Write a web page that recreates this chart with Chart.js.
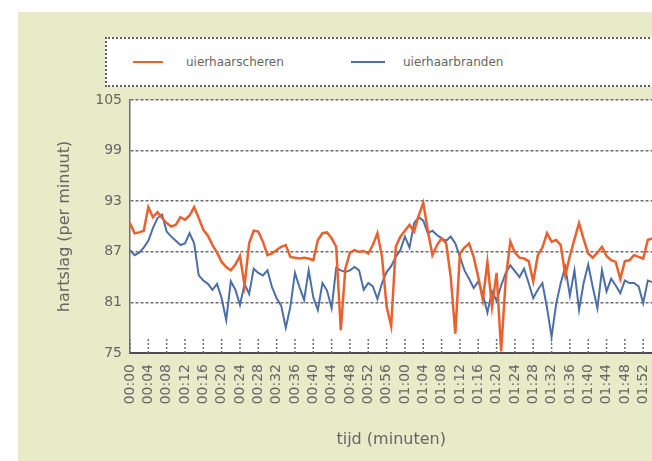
<!DOCTYPE html>
<html>
<head>
<meta charset="utf-8">
<script src="https://cdn.jsdelivr.net/npm/chart.js@4.4.1/dist/chart.umd.min.js"></script>
<style>
    html, body { margin: 0; padding: 0; background: #fff; overflow: hidden; }
    #page { position: relative; width: 652px; height: 461px; overflow: hidden; }
    #bg { position: absolute; left: 18px; top: 12px; right: 0; bottom: 0; background: #e7ebc8; }
    #chart { position: absolute; left: 0; top: 0; }
    .legend { position: absolute; left: 105px; top: 37px; width: 600px; height: 46px; background: #fff;
              border: 2px dotted #5e5e5e; font: 12px "DejaVu Sans", sans-serif; color: #666; }
    .legend .line { position: absolute; top: 22px; height: 2px; }
    .legend .label { position: absolute; top: 15px; line-height: 16px; }
</style>
</head>
<body>
<div id="page">
    <div id="bg"></div>
    <canvas id="chart" width="671" height="461"></canvas>
    <div class="legend">
        <div class="line" style="left: 26px; width: 30px; background: #e9612f;"></div>
        <div class="label" style="left: 79px;">uierhaarscheren</div>
        <div class="line" style="left: 244px; width: 34px; background: #4b6fa6;"></div>
        <div class="label" style="left: 296px;">uierhaarbranden</div>
    </div>
</div>
<script>
// heart rate per minute
const scheren = [
    90.4, 89.2, 89.3, 89.5, 92.3, 91.1, 91.7, 91.0, 90.4, 90.0,
    90.2, 91.1, 90.8, 91.3, 92.3, 91.0, 89.6, 88.9, 87.8, 86.9,
    85.8, 85.2, 84.8, 85.5, 86.5, 83.0, 88.0, 89.5, 89.4, 88.2,
    86.6, 86.8, 87.2, 87.6, 87.8, 86.4, 86.3, 86.2, 86.3, 86.2,
    86.0, 88.4, 89.2, 89.3, 88.6, 87.6, 77.7, 85.0, 86.9, 87.2,
    87.0, 87.1, 86.8, 87.8, 89.2, 86.4, 80.5, 78.2, 87.6, 88.8,
    89.5, 90.2, 89.4, 91.3, 92.8, 89.5, 86.6, 87.8, 88.6, 88.0,
    84.0, 77.3, 86.8, 87.5, 88.0, 86.4, 84.0, 81.3, 85.8, 80.5,
    84.5, 75.2, 83.8, 88.2, 86.9, 86.3, 86.2, 85.9, 83.5, 86.6,
    87.5, 89.2, 88.2, 88.4, 87.8, 84.2, 86.5, 88.5, 90.4, 88.5,
    86.8, 86.3, 86.9, 87.6, 86.5, 86.0, 85.8, 83.8, 85.9, 86.0,
    86.6, 86.4, 86.2, 88.4, 88.6
];
const branden = [
    87.2, 86.6, 86.9, 87.5, 88.3, 89.8, 91.0, 91.4, 89.4, 88.8,
    88.3, 87.8, 88.0, 89.2, 88.0, 84.2, 83.6, 83.2, 82.5, 83.2,
    81.5, 78.9, 83.5, 82.5, 80.7, 83.2, 82.0, 85.0, 84.5, 84.2,
    84.8, 82.8, 81.5, 80.6, 78.0, 80.5, 84.5, 82.8, 81.3, 84.8,
    81.6, 80.1, 83.3, 82.4, 80.3, 85.1, 84.8, 84.6, 84.8, 85.2,
    84.8, 82.5, 83.3, 82.9, 81.4, 83.3, 84.6, 85.3, 86.4, 87.2,
    88.8, 87.5, 90.4, 91.1, 90.7, 89.2, 89.5, 89.0, 88.6, 88.3,
    88.8, 88.0, 86.4, 84.8, 83.8, 82.7, 83.5, 82.0, 79.8, 82.3,
    81.2, 83.0, 84.5, 85.4, 84.7, 84.0, 85.0, 83.3, 81.5, 82.5,
    83.3, 80.4, 76.9, 80.8, 83.3, 85.2, 81.8, 84.8, 80.1, 83.3,
    85.5, 82.8, 80.3, 84.8, 82.3, 83.8, 83.0, 82.1, 83.6, 83.3,
    83.3, 82.9, 80.9, 83.6, 83.4
];
// one label every 4 minutes
const tijdLabels = [
    '00:00', '00:04', '00:08', '00:12', '00:16', '00:20', '00:24', '00:28',
    '00:32', '00:36', '00:40', '00:44', '00:48', '00:52', '00:56',
    '01:00', '01:04', '01:08', '01:12', '01:16', '01:20', '01:24', '01:28',
    '01:32', '01:36', '01:40', '01:44', '01:48', '01:52'
];
const minuten = scheren.map((v, i) => i);

const tekstKleur = '#666';
const lijnKleur = '#6d6d6d';

// white plot area + small tick marks pointing up into the plot
const plotExtras = {
    id: 'plotExtras',
    beforeDraw(chart) {
        const { ctx, chartArea: a } = chart;
        ctx.save();
        ctx.fillStyle = '#fff';
        ctx.fillRect(a.left, a.top, a.right - a.left, a.bottom - a.top);
        ctx.restore();
    },
    beforeDatasetsDraw(chart) {
        const x = chart.scales.x;
        const ctx = chart.ctx;
        ctx.save();
        ctx.strokeStyle = lijnKleur;
        ctx.lineWidth = 1.5;
        ctx.setLineDash([2, 2]);
        x.ticks.forEach((t, i) => {
            if (t.label == null) return;
            const px = x.getPixelForTick(i);
            ctx.beginPath();
            ctx.moveTo(px, x.top);
            ctx.lineTo(px, x.top - 14);
            ctx.stroke();
        });
        ctx.restore();
    }
};

new Chart(document.getElementById('chart').getContext('2d'), {
    type: 'line',
    data: {
        labels: minuten,
        datasets: [
            {
                label: 'uierhaarscheren',
                data: scheren,
                borderColor: '#e9612f',
                borderWidth: 2.5,
                pointRadius: 0,
                tension: 0
            },
            {
                label: 'uierhaarbranden',
                data: branden,
                borderColor: '#4b6fa6',
                borderWidth: 2,
                pointRadius: 0,
                tension: 0
            }
        ]
    },
    options: {
        responsive: false,
        animation: false,
        layout: { padding: { top: 100, right: 0, bottom: 0, left: 0 } },
        plugins: {
            legend: { display: false },
            tooltip: { enabled: false }
        },
        scales: {
            x: {
                grid: { display: false, drawTicks: false },
                border: { display: true, color: '#4d4d4d', width: 2 },
                ticks: {
                    autoSkip: false,
                    minRotation: 90,
                    maxRotation: 90,
                    padding: 11,
                    color: tekstKleur,
                    font: { family: 'DejaVu Sans', size: 14 },
                    callback: (v, i) => i % 4 === 0 ? tijdLabels[i / 4] : null
                },
                title: {
                    display: true,
                    text: 'tijd (minuten)',
                    color: tekstKleur,
                    font: { family: 'DejaVu Sans', size: 16 },
                    padding: { top: 0, bottom: 12 }
                },
                afterFit: s => { s.height = 108; }
            },
            y: {
                min: 75,
                max: 105,
                ticks: {
                    stepSize: 6,
                    padding: 8,
                    color: tekstKleur,
                    font: { family: 'DejaVu Sans', size: 14 }
                },
                grid: { color: lijnKleur, lineWidth: 1.5, drawTicks: false },
                border: { display: true, color: lijnKleur, width: 1.5, dash: [3, 2] },
                title: {
                    display: true,
                    text: 'hartslag (per minuut)',
                    color: tekstKleur,
                    font: { family: 'DejaVu Sans', size: 16 },
                    padding: { top: 55, bottom: 0 }
                },
                afterFit: s => { s.width = 130; }
            }
        }
    },
    plugins: [plotExtras]
});
</script>
</body>
</html>
